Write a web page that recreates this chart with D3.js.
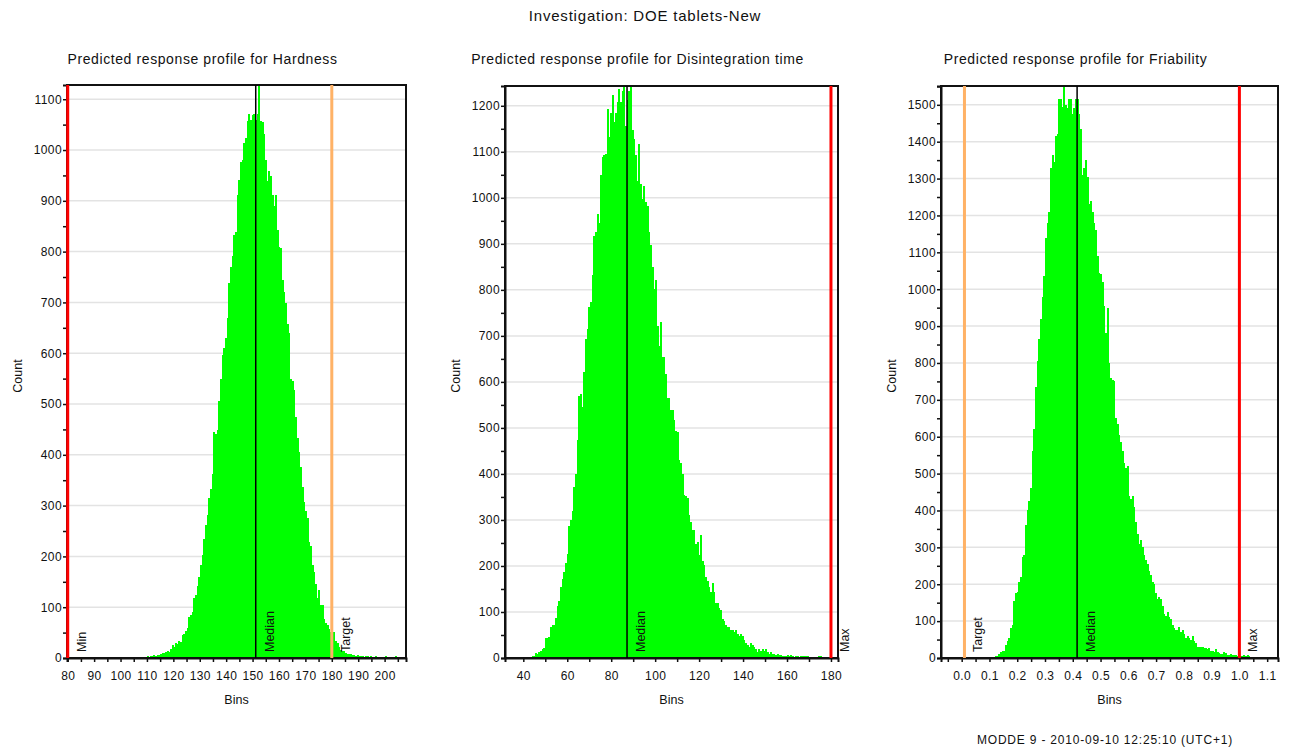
<!DOCTYPE html>
<html><head><meta charset="utf-8">
<script src="https://cdn.jsdelivr.net/npm/d3@7"></script>
<style>
body{margin:0;background:#fff;}
svg text{font-family:"Liberation Sans",Arial,sans-serif;fill:#111;}
</style></head><body>
<svg id="chart" width="1290" height="751"></svg>
<script>
// ---------------- DATA ----------------
const mainTitle = "Investigation: DOE tablets-New";
const footerText = "MODDE 9 - 2010-09-10 12:25:10 (UTC+1)";
const panelTitles = ["Predicted response profile for Hardness","Predicted response profile for Disintegration time","Predicted response profile for Friability"];
const yLabel = "Count";
const xLabel = "Bins";

// Hardness histogram
const hardBinStart = 109.9, hardBinWidth = 0.631;
const hardCounts = [3,2,4,3,5,4,6,5,8,10,9,12,14,12,17,25,22,29,28,33,31,45,48,54,60,80,84,90,119,125,141,160,184,203,235,262,282,315,333,362,445,440,449,506,550,597,610,629,669,738,770,792,832,839,912,941,977,980,1013,1024,1057,1071,1060,1068,1071,1060,1071,1128,1057,1055,1031,981,940,959,948,912,890,912,843,810,807,745,720,698,658,640,550,546,528,474,434,405,376,336,307,289,275,228,221,184,170,145,119,134,105,105,76,69,65,58,51,45,51,33,29,22,16,14,13,10,8,7,8,6,5,4,5,3,4,3,2,3,4,2,3,2,1,3,2,0,2,1,2,3,1,2,0,1,2,3,1,0];
const hardTicks = [80,85,90,95,100,105,110,115,120,125,130,135,140,145,150,155,160,165,170,175,180,185,190,195,200,205];
const hardTickLabels = [80,90,100,110,120,130,140,150,160,170,180,190,200];
const hardRefNames = ["Min","Median","Target"];
const hardRefValues = [80,151.2,180];

// Disintegration time histogram
const disBinStart = 42.29, disBinWidth = 0.758;
const disCounts = [3,2,5,5,10,9,12,16,20,21,44,44,45,68,72,72,88,112,124,155,171,187,207,227,287,299,319,371,399,474,570,574,546,622,694,714,762,774,833,917,925,965,945,1049,1089,1092,1096,1192,1132,1184,1224,1164,1184,1208,1236,1208,1232,1242,1156,1212,1232,1242,1148,1128,1092,1037,1116,1029,997,1026,990,982,925,897,849,801,821,721,678,730,654,654,618,566,566,539,539,518,494,491,431,423,399,355,351,347,311,295,279,279,247,251,223,267,211,203,175,167,155,144,163,144,120,120,108,104,84,80,72,68,68,60,60,56,60,52,48,52,48,40,32,28,24,32,28,24,20,12,20,16,20,16,20,12,8,12,8,8,7,8,6,6,4,4,5,6,5,6,4,3,4,4,3,4,5,5,4,5,2,2,1,2,2,1,4,4,2,1,2,2,3,3];
const disTicks = [40,50,60,70,80,90,100,110,120,130,140,150,160,170,180];
const disTickLabels = [40,60,80,100,120,140,160,180];
const disRefNames = ["Median","Max"];
const disRefValues = [87.2,180];

// Friability histogram
const friBinStart = 0.1019, friBinWidth = 0.006;
const friCounts = [2,3,3,5,5,10,15,18,20,35,45,55,80,90,155,175,180,205,220,275,280,360,400,425,460,560,620,735,805,865,920,980,1035,1140,1180,1210,1330,1365,1345,1415,1420,1515,1515,1495,1552,1500,1490,1515,1515,1475,1490,1515,1515,1475,1435,1310,1330,1350,1305,1230,1240,1210,1180,1160,1090,1045,1040,1020,955,880,950,800,760,755,750,650,635,605,585,560,530,515,520,440,430,440,410,370,335,310,320,300,280,265,255,235,225,205,200,175,160,165,160,140,120,115,125,110,105,90,80,75,75,85,70,75,65,55,60,55,50,60,45,40,30,30,30,29,28,27,25,28,20,20,15,25,15,14,12,11,15,14,8,8,10,9,8,7,6,6,5,5,7,6,7,5,4,4,3,4,3,3,2,3,3,2,2,1,2,2,1,2,2];
const friTicks = [-0.05,0,0.05,0.1,0.15,0.2,0.25,0.3,0.35,0.4,0.45,0.5,0.55,0.6,0.65,0.7,0.75,0.8,0.85,0.9,0.95,1.0,1.05,1.1];
const friTickLabels = [0,0.1,0.2,0.3,0.4,0.5,0.6,0.7,0.8,0.9,1.0,1.1];
const friRefNames = ["Target","Median","Max"];
const friRefValues = [0.01,0.4156,1.0];

// ---------------- LAYOUT / STYLE ----------------
const refColors = {Min:"#ff0000", Max:"#ff0000", Target:"#ffb266", Median:"#000000"};
const panels = [
  {title:panelTitles[0], counts:hardCounts, start:hardBinStart, width:hardBinWidth, ticks:hardTicks, labels:hardTickLabels, fmt:d=>String(d),
   refNames:hardRefNames, refValues:hardRefValues, left:67, right:406, top:85, bottom:658, xdom:[79.73,208.1], ymax:1128, yStep:50},
  {title:panelTitles[1], counts:disCounts, start:disBinStart, width:disBinWidth, ticks:disTicks, labels:disTickLabels, fmt:d=>String(d),
   refNames:disRefNames, refValues:disRefValues, left:505, right:838, top:86, bottom:658, xdom:[31.67,183.2], ymax:1243, yStep:50},
  {title:panelTitles[2], counts:friCounts, start:friBinStart, width:friBinWidth, ticks:friTicks, labels:friTickLabels, fmt:d=>d.toFixed(1),
   refNames:friRefNames, refValues:friRefValues, left:941, right:1278, top:86, bottom:658, xdom:[-0.0745,1.139], ymax:1551, yStep:50}
];

const svg = d3.select("#chart");
svg.append("text").attr("x",645).attr("y",21).attr("text-anchor","middle")
  .style("font-size","15px").style("letter-spacing","0.8px").text(mainTitle);
svg.append("text").attr("x",1105).attr("y",744).attr("text-anchor","middle")
  .style("font-size","12px").style("letter-spacing","0.8px").text(footerText);

panels.forEach(p => {
  const x = d3.scaleLinear().domain(p.xdom).range([p.left, p.right]);
  const y = d3.scaleLinear().domain([0, p.ymax]).range([p.bottom, p.top]);
  const g = svg.append("g");
  const cx = (p.left + p.right) / 2;

  // title
  g.append("text").attr("x", cx - 34).attr("y", 64).attr("text-anchor","middle")
    .style("font-size","14px").style("letter-spacing","0.6px").text(p.title);

  // gridlines
  const major = d3.range(100, p.ymax, 100);
  g.selectAll("line.grid").data(major).join("line")
    .attr("x1", p.left).attr("x2", p.right)
    .attr("y1", d => y(d)).attr("y2", d => y(d))
    .attr("stroke","#e3e3e3").attr("stroke-width",1.5);

  // bars
  const bins = p.counts.map((c,i) => ({x0: p.start + i*p.width, x1: p.start + (i+1)*p.width, c}));
  const clipId = "clip" + p.left;
  svg.append("clipPath").attr("id", clipId).append("rect")
    .attr("x", p.left).attr("y", p.top).attr("width", p.right - p.left).attr("height", p.bottom - p.top);
  g.append("g").attr("clip-path", `url(#${clipId})`)
    .selectAll("rect").data(bins).join("rect")
    .attr("x", d => x(d.x0)).attr("width", d => Math.max(0.5, x(d.x1) - x(d.x0) + 0.4))
    .attr("y", d => y(d.c)).attr("height", d => y(0) - y(d.c))
    .attr("fill","#00ff00").attr("shape-rendering","crispEdges");

  // frame
  g.append("rect").attr("x", p.left).attr("y", p.top).attr("width", p.right - p.left).attr("height", p.bottom - p.top)
    .attr("fill","none").attr("stroke","#111").attr("stroke-width",2);

  // y axis
  const yTicks = d3.range(0, p.ymax, p.yStep);
  const yAxis = d3.axisLeft(y).tickValues(yTicks).tickSize(4).tickPadding(1)
    .tickFormat(d => d % 100 === 0 ? String(d) : "");
  const ya = g.append("g").attr("transform", `translate(${p.left},0)`).call(yAxis);
  ya.select(".domain").attr("stroke","#111").attr("stroke-width",2);
  ya.selectAll(".tick line").attr("stroke","#111").attr("stroke-width",1.5);
  ya.selectAll("text").style("font-size","12px").style("letter-spacing","0.4px").attr("fill","#111");

  // x axis
  const xAxis = d3.axisBottom(x).tickValues(p.ticks).tickSize(4).tickPadding(9)
    .tickFormat(d => p.labels.some(l => Math.abs(l - d) < 1e-9) ? p.fmt(d) : "");
  const xa = g.append("g").attr("transform", `translate(0,${p.bottom})`).call(xAxis);
  xa.select(".domain").attr("stroke","#111").attr("stroke-width",2);
  xa.selectAll(".tick line").attr("stroke","#111").attr("stroke-width",1.5);
  xa.selectAll("text").style("font-size","12px").style("letter-spacing","0.4px").attr("fill","#111");

  // reference lines
  p.refNames.forEach((name, i) => {
    const xv = x(p.refValues[i]);
    const isMed = name === "Median";
    g.append("line").attr("x1", xv).attr("x2", xv).attr("y1", p.top).attr("y2", p.bottom)
      .attr("stroke", refColors[name]).attr("stroke-width", isMed ? 1.5 : 3);
    g.append("text").attr("transform", `translate(${xv + 18},652) rotate(-90)`)
      .style("font-size","12.5px").text(name);
  });

  // axis titles
  g.append("text").attr("transform", `translate(${p.left - 45},376) rotate(-90)`).attr("text-anchor","middle")
    .style("font-size","12.5px").text(yLabel);
  g.append("text").attr("x", cx).attr("y", 704).attr("text-anchor","middle")
    .style("font-size","12.5px").text(xLabel);
});
</script>
</body></html>
